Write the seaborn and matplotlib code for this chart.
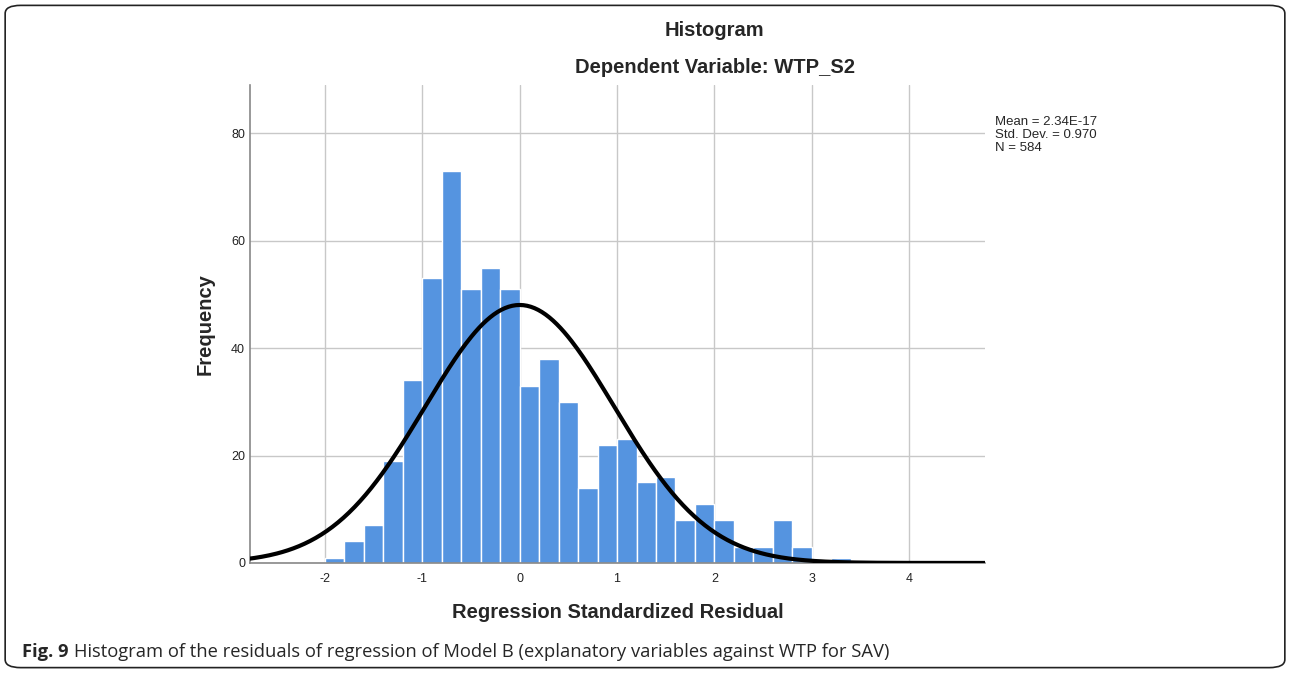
import numpy as np
import pandas as pd
import matplotlib
matplotlib.use("Agg")
import matplotlib.pyplot as plt
from matplotlib.patches import FancyBboxPatch
import seaborn as sns

# histogram counts, bins of width 0.2 starting at -2
bin_start = -2.0
bin_width = 0.2
counts = [1, 4, 7, 19, 34,
          53, 73, 51, 55, 51,
          33, 38, 30, 14, 22,
          23, 15, 16, 8, 11,
          8, 3, 3, 8, 3,
          0, 1]
mean = 2.34e-17
std = 0.970
n = 584
x_ticks = [-2, -1, 0, 1, 2, 3, 4]
y_ticks = [0, 20, 40, 60, 80]

centers = bin_start + bin_width * (np.arange(len(counts)) + 0.5)
df = pd.DataFrame({"residual": centers, "count": counts})

sns.set_style("white")
plt.rcParams["font.family"] = ["Liberation Sans", "DejaVu Sans"]

fig = plt.figure(figsize=(12.9, 6.73), dpi=100)
ax = fig.add_axes([0.1938, 0.1635, 0.5698, 0.7102])

sns.histplot(data=df, x="residual", weights="count",
             binwidth=bin_width, binrange=(bin_start, bin_start + bin_width * len(counts)),
             ax=ax, color="#5594E0", alpha=1, edgecolor="white", linewidth=1, zorder=2)

# normal curve
xs = np.linspace(-2.8, 4.8, 400)
curve = n * bin_width * np.exp(-0.5 * ((xs - mean) / std) ** 2) / (std * np.sqrt(2 * np.pi))
sns.lineplot(x=xs, y=curve, ax=ax, color="black", linewidth=3, zorder=3)

ax.set_xlim(-2.77, 4.78)
ax.set_ylim(0, 89)
ax.set_xticks(x_ticks)
ax.set_yticks(y_ticks)
ax.set_xticklabels([str(t) for t in x_ticks])
ax.grid(True, color="#c8c8c8", linewidth=1, zorder=0)
ax.set_axisbelow(True)
for s in ["top", "right"]:
    ax.spines[s].set_visible(False)
for s in ["left", "bottom"]:
    ax.spines[s].set_color("#888888")
    ax.spines[s].set_linewidth(1.2)
ax.tick_params(axis="both", labelsize=9, length=0, colors="#222222")
ax.tick_params(axis="x", pad=7)
ax.tick_params(axis="y", pad=3.5)

ax.set_xlabel("Regression Standardized Residual", fontsize=14.5, fontweight="bold", labelpad=13)
ax.set_ylabel("Frequency", fontsize=14.5, fontweight="bold", labelpad=12)

fig.text(0.554, 0.954, "Histogram", ha="center", va="center", fontsize=14.5, fontweight="bold")
fig.text(0.554, 0.899, "Dependent Variable: WTP_S2", ha="center", va="center", fontsize=14.5, fontweight="bold")

fig.text(0.771, 0.799, "Mean = 2.34E-17\nStd. Dev. = 0.970\nN = 584",
         ha="left", va="center", fontsize=9.5, linespacing=1.1)

# caption: bold "Fig. 9" followed by normal text
fig_lbl = fig.text(0.017, 0.031, "Fig. 9", ha="left", va="center", fontsize=13.2,
                   fontweight="bold", family=["Open Sans", "DejaVu Sans"])
fig.canvas.draw()
bb = fig_lbl.get_window_extent().transformed(fig.transFigure.inverted())
fig.text(bb.x1 + 0.004, 0.031,
         "Histogram of the residuals of regression of Model B (explanatory variables against WTP for SAV)",
         ha="left", va="center", fontsize=13.2, family=["Open Sans", "DejaVu Sans"])

box = FancyBboxPatch((0.004, 0.008), 0.992, 0.984, transform=fig.transFigure,
                     boxstyle="round,pad=0,rounding_size=0.012", fill=False,
                     edgecolor="#222222", linewidth=1.2)
fig.patches.append(box)

fig.savefig("out.png", dpi=100)
